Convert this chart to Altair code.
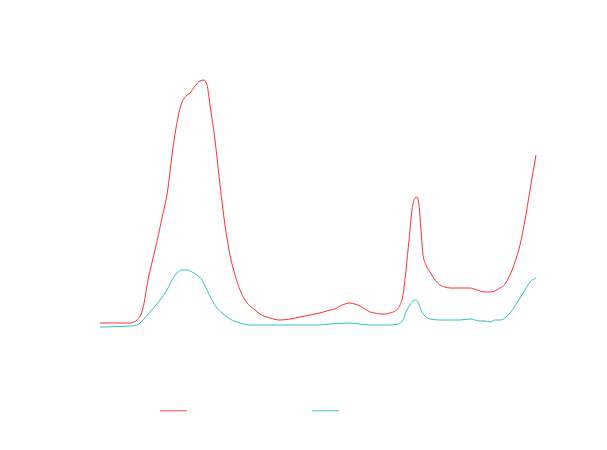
import altair as alt
import pandas as pd

# x positions (arbitrary units) and values
red_x = [100,130,137,143,148,155,162,168,172,176,181,186,190,195,200,204,207,210,215,220,225,230,235,240,245,250,255,260,270,280,290,300,310,320,330,335,340,345,350,355,360,365,370,375,380,385,390,395,400,403,406,409,412,415,417,419,421,423,426,430,435,440,445,450,460,470,477,485,490,495,500,505,510,515,520,525,530,536]
red_py = [323,323,320,308,280,250,218,188,155,128,105,96,93,86,81,80,85,105,140,185,225,255,275,290,300,306,310,314,318,320,319,317,315,313,310,309,306,304,303,304,306,309,312,313,314,314,313,311,305,295,270,240,210,198,197,205,230,255,265,272,280,285,287,288,288,288,290,292,292,291,288,284,275,262,245,220,190,155]

teal_x = [100,130,137,143,150,160,167,172,177,182,187,192,197,202,207,212,217,222,230,240,250,260,300,320,330,350,360,370,380,390,398,403,406,410,413,416,418,421,425,430,440,460,470,475,480,485,490,495,500,505,510,515,520,525,530,536]
teal_py = [327,326,325,320,312,300,290,280,273,270,270,272,275,280,290,300,308,313,319,323,325,325,325,325,324,323,324,325,325,325,324,320,312,305,301,300,302,310,316,319,320,320,319,320,321,321,322,320,320,318,313,306,298,290,282,278]

series_names = ["Series A", "Series B"]
colors = ["#FF3030", "#2EC4C4"]

red_v = [(330 - p) / 2.5 for p in red_py]
teal_v = [(330 - p) / 2.5 for p in teal_py]

df = pd.concat([
    pd.DataFrame({"x": red_x, "y": red_v, "series": series_names[0]}),
    pd.DataFrame({"x": teal_x, "y": teal_v, "series": series_names[1]}),
])

chart = alt.Chart(df).mark_line(strokeWidth=1, interpolate="monotone").encode(
    x=alt.X("x:Q", scale=alt.Scale(domain=[100, 536], nice=False, zero=False), axis=None),
    y=alt.Y("y:Q", scale=alt.Scale(domain=[0, 100], nice=False), axis=None),
    color=alt.Color("series:N", scale=alt.Scale(domain=series_names, range=colors),
                    legend=alt.Legend(orient="none", legendX=59, legendY=316, direction="horizontal",
                                      title=None, symbolType="stroke", symbolSize=729,
                                      symbolStrokeWidth=1.5, symbolOpacity=0.6,
                                      labelColor="white", columnPadding=79,
                                      labelOffset=4, padding=0)),
).properties(
    width=436, height=250,
    autosize=alt.AutoSizeParams(type="none"),
    padding={"left": 92, "top": 72, "right": 60, "bottom": 110},
).configure_view(stroke=None)

chart.save("out.html", embed_options={"renderer": "svg", "actions": False})
